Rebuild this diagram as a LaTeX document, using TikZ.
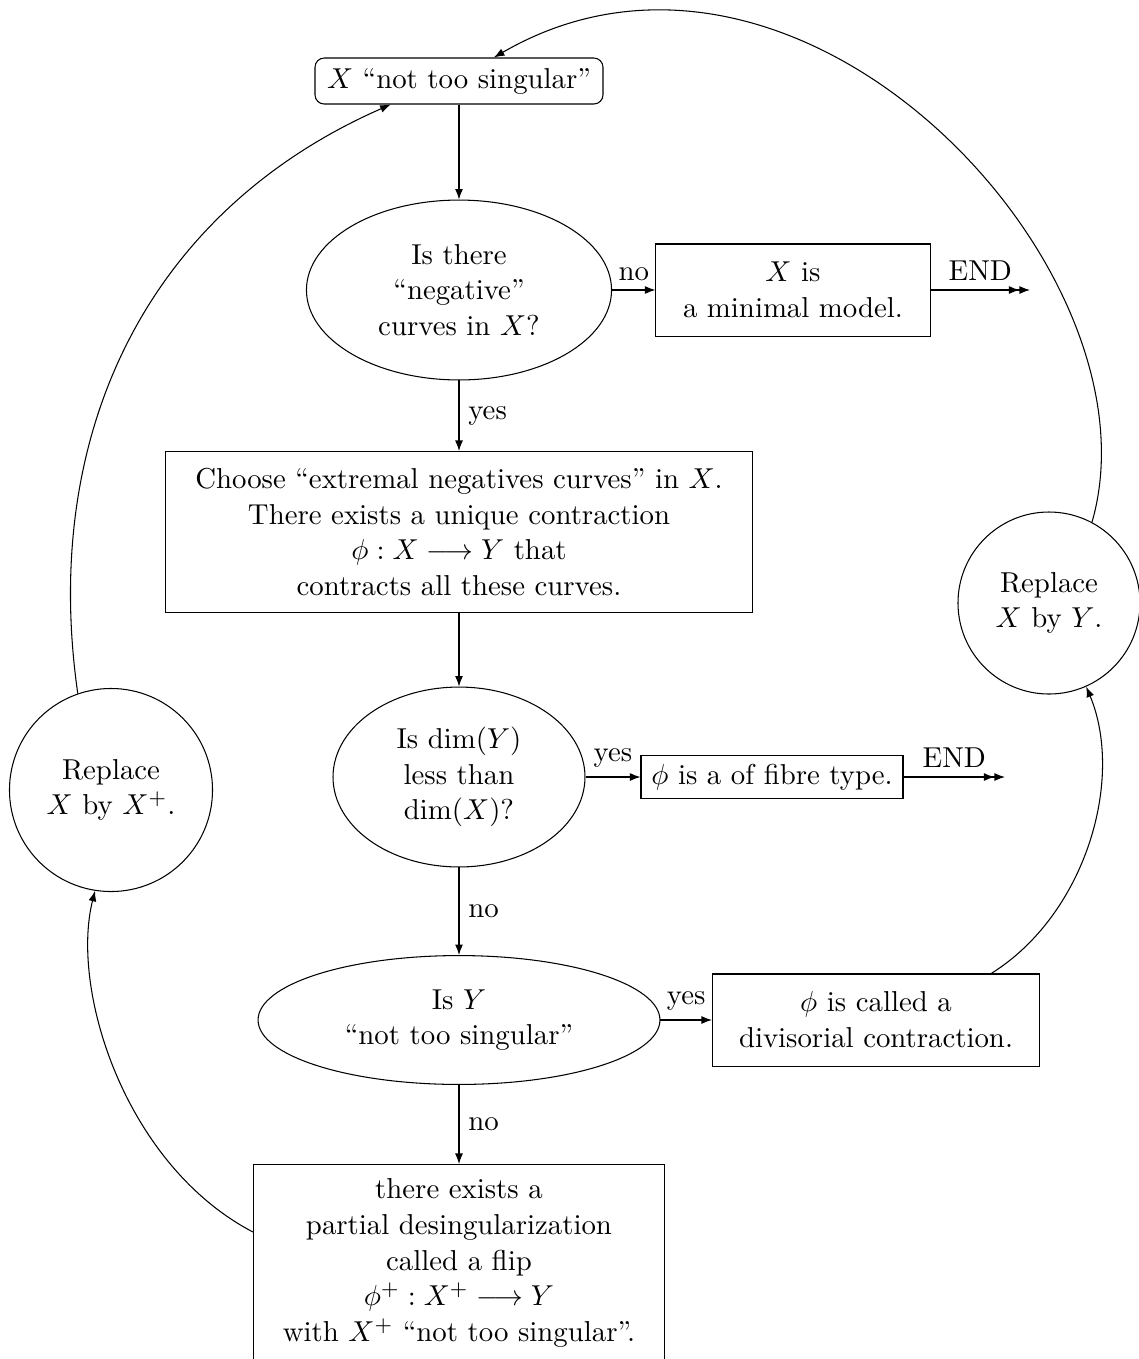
\documentclass[tikz,border=0pt]{standalone}
\usetikzlibrary{shapes.geometric,arrows.meta}
\begin{document}
\begin{tikzpicture}[x=0.3802pt,y=-0.3802pt,
  font=\fontsize{10.95}{13.6}\selectfont,
  every node/.style={align=center},
  arr/.style={-{Latex[length=4pt,width=3pt]}},
  endarr/.style={-{Latex[length=4pt,width=3pt]Latex[length=4pt,width=3pt]}},
  boxnode/.style={draw,rectangle,inner sep=2pt},
  ellnode/.style={draw,ellipse,inner sep=0pt},
  circnode/.style={draw,circle,inner sep=0pt}]
\useasboundingbox (0,0) rectangle (1139,1359);

\node[boxnode,rounded corners=3.5pt,minimum width=109.5pt,minimum height=17.5pt] (top) at (459,81) {$X$ ``not too singular''};
\node[ellnode,minimum width=116pt,minimum height=68.4pt] (e1) at (459,290) {Is there\\``negative''\\curves in $X$?};
\node[boxnode,minimum width=104.2pt,minimum height=35pt] (minimal) at (793,290) {$X$ is\\a minimal model.};
\coordinate (end1) at (1030,290);
\node[boxnode,minimum width=223.2pt,minimum height=61.2pt] (choose) at (459,532) {Choose ``extremal negatives curves'' in $X$.\\There exists a unique contraction\\$\phi : X \longrightarrow Y$ that\\contracts all these curves.};
\node[ellnode,minimum width=95.8pt,minimum height=68.4pt] (e2) at (459,777) {Is $\dim(Y)$\\less than\\$\dim(X)$?};
\node[boxnode,minimum width=99.6pt,minimum height=16.3pt] (fibre) at (772,777) {$\phi$ is a of fibre type.};
\coordinate (end2) at (1005,777);
\node[ellnode,minimum width=152.8pt,minimum height=49pt] (e3) at (459,1020) {Is $Y$\\``not too singular''};
\node[boxnode,minimum width=124.3pt,minimum height=35pt] (div) at (876,1020) {$\phi$ is called a\\divisorial contraction.};
\node[boxnode,anchor=north,minimum width=156.3pt,inner ysep=5.3pt] (flip) at (459,1164) {there exists a\\partial desingularization\\called a flip\\$\phi^+ : X^+ \longrightarrow Y$\\with $X^+$ ``not too singular''.};
\node[circnode,minimum size=69.2pt] (cr) at (1049,603) {Replace\\$X$ by $Y$.};
\node[circnode,minimum size=77.2pt] (cl) at (111,790) {Replace\\$X$ by $X^+$.};

\draw[arr] (top) -- (e1);
\draw[arr] (e1) -- node[above]{no} (minimal);
\draw[endarr] (minimal) -- node[above]{END} (end1);
\draw[arr] (e1) -- node[right]{yes} (choose);
\draw[arr] (choose) -- (e2);
\draw[arr] (e2) -- node[above]{yes} (fibre);
\draw[endarr] (fibre) -- node[above]{END} (end2);
\draw[arr] (e2) -- node[right]{no} (e3);
\draw[arr] (e3) -- node[above]{yes} (div);
\draw[arr] (e3) -- node[right]{no} (flip);

\draw[arr] (div.22) .. controls (1085,915) and (1125,780) .. (cr.294);
\draw[arr] (cr.62) .. controls (1165,270) and (800,-120) .. (top.34);
\draw[arr] ([yshift=-25.85pt]flip.north west) .. controls (125,1165) and (70,990) .. (cl.261);
\draw[arr] (cl.109) .. controls (40,430) and (150,210) .. (top.199);
\end{tikzpicture}
\end{document}
